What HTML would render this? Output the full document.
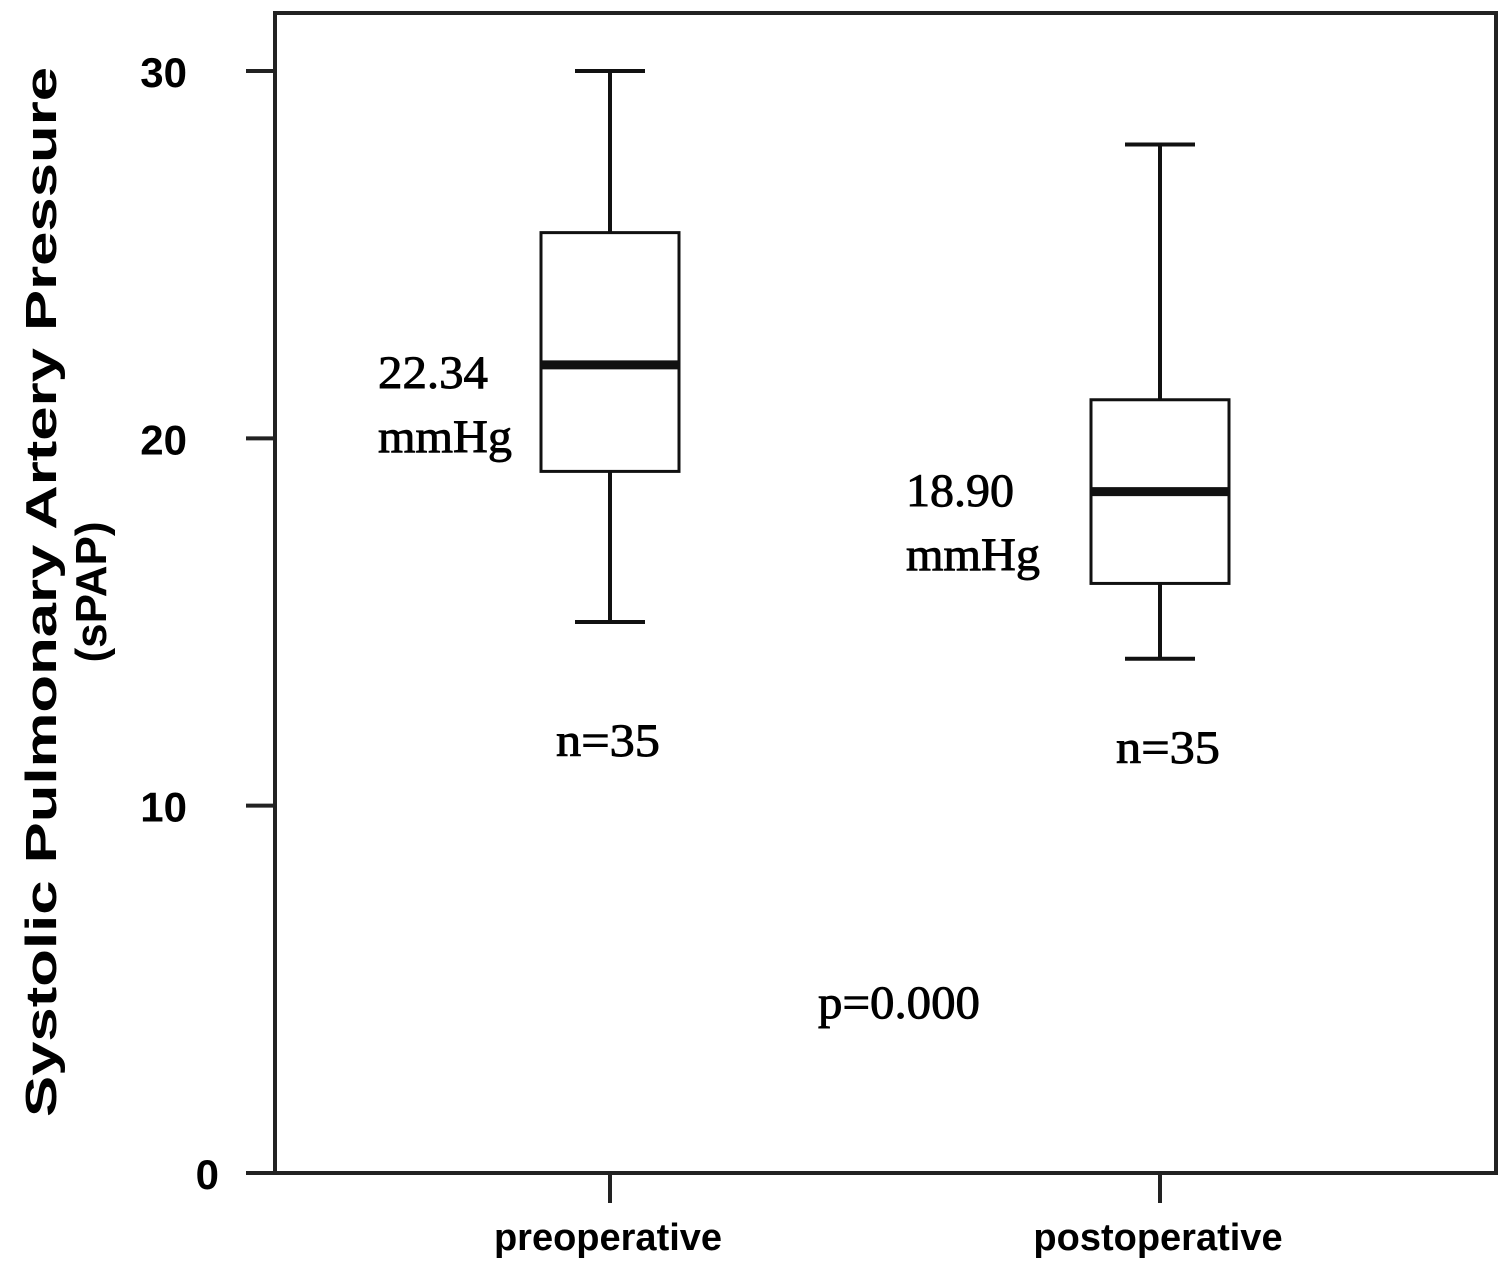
<!DOCTYPE html>
<html><head><meta charset="utf-8"><style>
html,body{margin:0;padding:0;background:#fff;}
svg{display:block;}
.sans{font-family:"Liberation Sans",sans-serif;}
.serif{font-family:"Liberation Serif",serif;stroke:#000;stroke-width:0.9;}
</style></head><body>
<svg id="chart" width="1508" height="1269" viewBox="0 0 1508 1269">
<rect x="275" y="13" width="1221" height="1160" fill="none" stroke="#222" stroke-width="4"/>
<g id="yaxis"></g>
<g id="xaxis"></g>
<g id="boxes"></g>
<text class="sans" font-weight="bold" font-size="44" transform="translate(56,592) rotate(-90)" text-anchor="middle" textLength="1050" lengthAdjust="spacingAndGlyphs">Systolic Pulmonary Artery Pressure</text>
<text class="sans" font-weight="bold" font-size="44" transform="translate(106,592) rotate(-90)" text-anchor="middle">(sPAP)</text>
<text class="serif" font-size="47" x="378" y="388" textLength="110" lengthAdjust="spacingAndGlyphs">22.34</text>
<text class="serif" font-size="47" x="378" y="452" textLength="134" lengthAdjust="spacingAndGlyphs">mmHg</text>
<text class="serif" font-size="47" x="906" y="506" textLength="108" lengthAdjust="spacingAndGlyphs">18.90</text>
<text class="serif" font-size="47" x="906" y="570" textLength="134" lengthAdjust="spacingAndGlyphs">mmHg</text>
<text class="serif" font-size="47" x="556" y="756" textLength="104" lengthAdjust="spacingAndGlyphs">n=35</text>
<text class="serif" font-size="47" x="1116" y="763" textLength="104" lengthAdjust="spacingAndGlyphs">n=35</text>
<text class="serif" font-size="47" x="818" y="1018" textLength="162" lengthAdjust="spacingAndGlyphs">p=0.000</text>
</svg>
<script>
const categories = ["preoperative", "postoperative"];
const whiskerLow = [15.0, 14.0];
const q1 = [19.1, 16.05];
const median = [22.0, 18.55];
const q3 = [25.6, 21.05];
const whiskerHigh = [30.0, 28.0];
const yTicks = [0, 10, 20, 30];

const NS = "http://www.w3.org/2000/svg";
const y0 = 1173, yTop = 71;
function yScale(v){ return y0 - (y0 - yTop) * v / 30; }
const xCenters = [610, 1160];
function xScale(i){ return xCenters[0] + i * (xCenters[1] - xCenters[0]); }
function mk(tag, attrs, parent){ const e = document.createElementNS(NS, tag); for (const k in attrs) e.setAttribute(k, attrs[k]); parent.appendChild(e); return e; }

const ya = document.getElementById('yaxis');
yTicks.forEach(t => {
  const l = mk('line', {x1:246, x2:275, y1:yScale(t), y2:yScale(t), stroke:'#222', 'stroke-width':4}, ya);
  
  
  const label = String(t);
  const tx = mk('text', {x: label.length > 1 ? 187 : 219, y:yScale(t)+16, 'text-anchor':'end', 'font-size':42, 'font-weight':'bold', class:'sans'}, ya);
  tx.textContent = label;
  
  
});
const xa = document.getElementById('xaxis');
categories.forEach((c, i) => {
  const x = xScale(i);
  const l = mk('line', {x1:x, x2:x, y1:1173, y2:1203, stroke:'#222', 'stroke-width':4}, xa);
  
  
  const tx = mk('text', {x:x-2, y:1250, 'text-anchor':'middle', 'font-size':38, 'font-weight':'bold', class:'sans'}, xa);
  tx.textContent = c;
  
  
});
const bx = document.getElementById('boxes');
categories.forEach((c, i) => {
  const x = xScale(i);
  const g = mk('g', {}, bx);
  
  
  const s = {stroke:'#111', 'stroke-width':4};
  mk('line', Object.assign({x1:x, x2:x, y1:yScale(whiskerHigh[i]), y2:yScale(q3[i])}, s), g);
  mk('line', Object.assign({x1:x, x2:x, y1:yScale(q1[i]), y2:yScale(whiskerLow[i])}, s), g);
  mk('line', Object.assign({x1:x-35, x2:x+35, y1:yScale(whiskerHigh[i]), y2:yScale(whiskerHigh[i])}, s), g);
  mk('line', Object.assign({x1:x-35, x2:x+35, y1:yScale(whiskerLow[i]), y2:yScale(whiskerLow[i])}, s), g);
  mk('rect', Object.assign({x:x-69, width:138, y:yScale(q3[i]), height:yScale(q1[i])-yScale(q3[i]), fill:'#fff'}, s, {'stroke-width':3}), g);
  mk('line', {x1:x-69, x2:x+69, y1:yScale(median[i]), y2:yScale(median[i]), stroke:'#111', 'stroke-width':9}, g);
});
</script>
</body></html>
